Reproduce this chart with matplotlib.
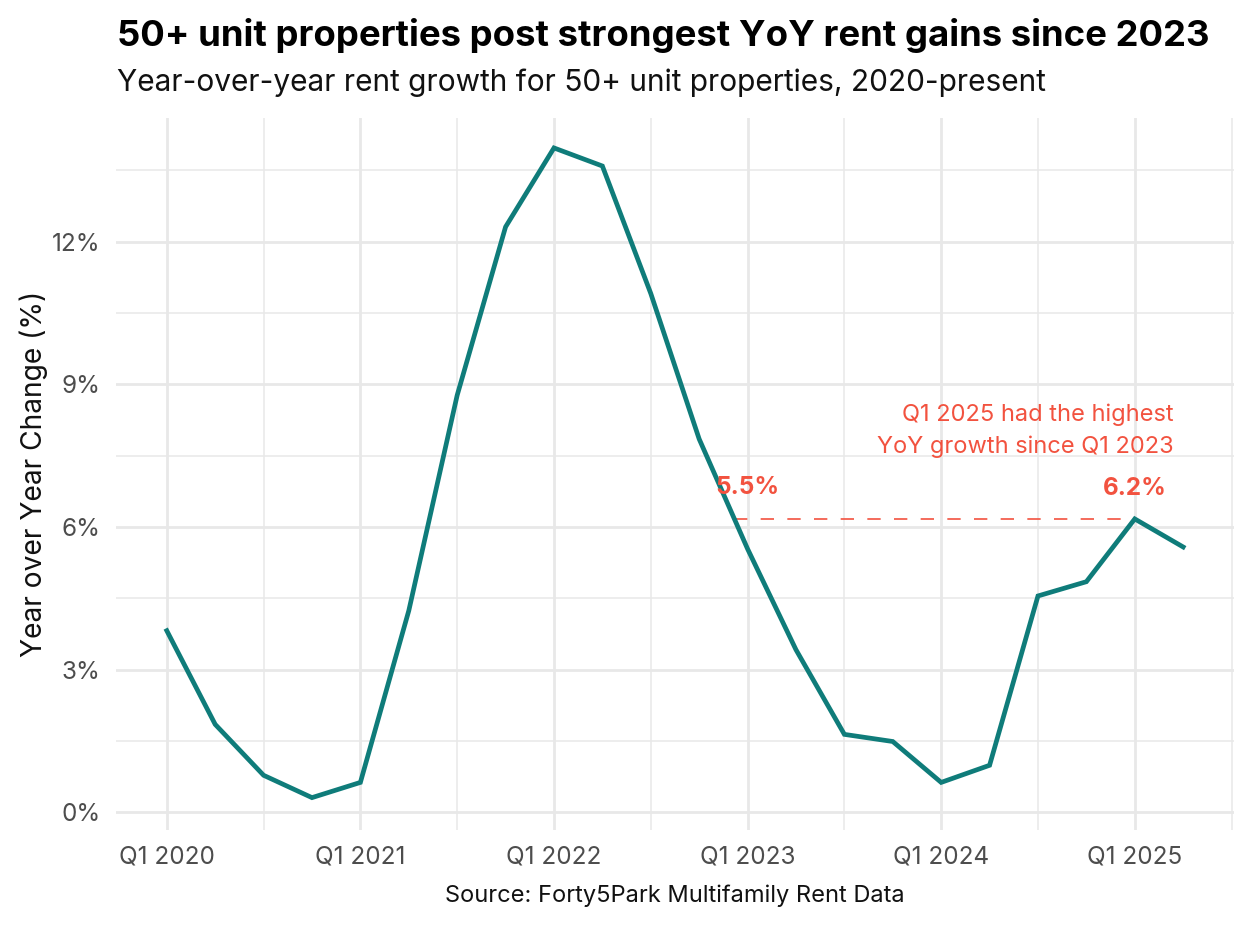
import numpy as np
import matplotlib
matplotlib.use("Agg")
import matplotlib.pyplot as plt
from matplotlib.ticker import FixedLocator, FuncFormatter

plt.rcParams["font.family"] = ["Inter", "DejaVu Sans"]

# quarterly YoY rent growth, Q1 2020 .. Q2 2025
quarters = [f"Q{q} {y}" for y in range(2020, 2026) for q in range(1, 5)][:22]
yoy = [3.82, 1.85, 0.78, 0.31, 0.63, 4.24, 8.77, 12.31,
       13.97, 13.59, 10.91, 7.85, 5.54, 3.42, 1.64, 1.49,
       0.63, 0.99, 4.55, 4.85, 6.17, 5.58]
year_labels = ["Q1 2020", "Q1 2021", "Q1 2022", "Q1 2023", "Q1 2024", "Q1 2025"]
y_major = [0, 3, 6, 9, 12]
y_minor = [1.5, 4.5, 7.5, 10.5, 13.5]

TEAL = "#0f7c7a"
RED = "#f2523f"
GRID = "#e8e8e8"
TICK = "#4d4d4d"

x = np.arange(len(yoy))
i23 = quarters.index("Q1 2023")
i25 = quarters.index("Q1 2025")

fig = plt.figure(figsize=(12.51, 9.26), dpi=100)
ax = fig.add_axes([0.0927, 0.1037, 0.8937, 0.7689])

ax.plot(x, yoy, color=TEAL, lw=3.4, solid_joinstyle="miter", zorder=3)

# dashed reference from where the curve first drops to the Q1 2025 level
ref = yoy[i25]
seg_y = yoy[i23 - 1:i23 + 1]
start = (i23 - 1) + np.interp(ref, seg_y[::-1], [1, 0])
ax.plot([start, i25], [ref, ref], color=RED, lw=1.2, ls=(0, (8, 8)), zorder=2)

ax.text(i23, yoy[i23] + 1.3, f"{yoy[i23]:.1f}%", color=RED, fontsize=17.5,
        fontweight="bold", ha="center", va="center")
ax.text(i25, ref + 0.65, f"{ref:.1f}%", color=RED, fontsize=17.5,
        fontweight="bold", ha="center", va="center")
ax.text(20.8, 7.45, "Q1 2025 had the highest\nYoY growth since Q1 2023",
        color=RED, fontsize=17, ha="right", va="bottom", linespacing=1.55)

ax.set_xlim(-1.05, 22.05)
ax.set_ylim(-0.37, 14.6)
ax.xaxis.set_major_locator(FixedLocator([quarters.index(q) for q in year_labels]))
ax.xaxis.set_minor_locator(FixedLocator([2, 6, 10, 14, 18, 22]))
ax.set_xticklabels(year_labels)
ax.yaxis.set_major_locator(FixedLocator(y_major))
ax.yaxis.set_minor_locator(FixedLocator(y_minor))
ax.yaxis.set_major_formatter(FuncFormatter(lambda v, p: f"{v:.0f}%"))

ax.grid(which="major", color=GRID, lw=2)
ax.grid(which="minor", color=GRID, lw=1.1)
ax.set_axisbelow(True)
for s in ax.spines.values():
    s.set_visible(False)
ax.tick_params(which="both", length=0, labelsize=17.5, labelcolor=TICK, pad=11)

ax.set_ylabel("Year over Year Change (%)", fontsize=20.3, color="#111111", labelpad=3)
ax.set_xlabel("Source: Forty5Park Multifamily Rent Data", fontsize=17,
              color="#111111", labelpad=12)

fig.text(0.0935, 0.962, "50+ unit properties post strongest YoY rent gains since 2023",
         fontsize=26.3, fontweight="bold", color="black", va="center")
fig.text(0.0935, 0.911, "Year-over-year rent growth for 50+ unit properties, 2020-present",
         fontsize=21.5, color="#111111", va="center")

fig.savefig("out.png", dpi=100)
